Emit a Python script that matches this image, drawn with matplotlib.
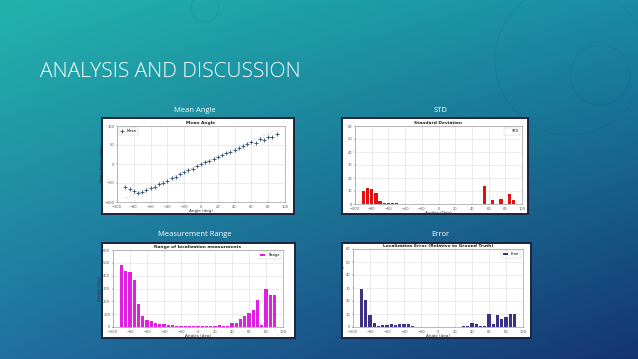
import numpy as np
import matplotlib
matplotlib.use('Agg')
import matplotlib.pyplot as plt

# ---- data ----
angles = np.arange(-90, 91, 5)

mean_angle = [-60, -65, -72, -75, -73, -68, -64, -60, -52, -50, -45, -38, -33,
              -27, -22, -17, -12, -5, 0, 4, 9, 14, 19, 24, 28, 32, 38, 43,
              47, 52, 58, 55, 65, 62, 72, 70, 78]

std_dev = [10, 12, 11.5, 8.5, 2.5, 1, 0.8, 0.5, 0.4, 0.3, 0.3, 0.2, 0.2,
           0.2, 0.2, 0.2, 0.2, 0.2, 0.2, 0.2, 0.2, 0.2, 0.2, 0.2, 0.2, 0.2,
           0.2, 0.2, 0.3, 14, 0.3, 3, 0.3, 3.5, 0.3, 8, 3]

meas_range = [480, 440, 430, 370, 180, 85, 55, 45, 35, 25, 25, 12, 12, 10,
              8, 6, 6, 5, 5, 8, 6, 10, 8, 12, 8, 8, 30, 30, 65, 85, 110,
              130, 210, 15, 300, 250, 250]

loc_error = [29, 21, 9, 3, 1, 1.5, 1.5, 2, 1.5, 2.5, 2, 2, 0.5, 0.3, 0.2,
             0.2, 0.2, 0.2, 0.2, 0.2, 0.2, 0.2, 0.2, 0.2, 0.5, 1, 3, 2, 1,
             1, 10, 2.5, 9, 6, 8, 10, 10]

panel_titles = ['Mean Angle', 'STD', 'Measurement Range', 'Error']
slide_title = 'ANALYSIS AND DISCUSSION'

W, H = 638, 359
fig = plt.figure(figsize=(W / 100, H / 100), dpi=100)

# background gradient
bg = fig.add_axes([0, 0, 1, 1])
tl = np.array([34, 180, 172]); tr = np.array([26, 140, 165])
bl = np.array([32, 112, 160]); br = np.array([20, 52, 112])
u = np.linspace(0, 1, W)[None, :, None]
v = np.linspace(0, 1, H)[:, None, None]
img = (tl * (1 - u) * (1 - v) + tr * u * (1 - v) + bl * (1 - u) * v + br * u * v) / 255.
bg.imshow(img, aspect='auto', extent=[0, W, H, 0])
bg.set_xlim(0, W); bg.set_ylim(H, 0)
bg.axis('off')
# faint decorative rings
for cx, cy, r in [(205, 8, 14), (600, 75, 30), (570, 60, 75)]:
    bg.add_patch(plt.Circle((cx, cy), r, fill=False, ec=(0.1, 0.2, 0.3, 0.12), lw=0.6))

bg.text(40, 72, slide_title, color='white', fontsize=15, family='Open Sans',
        fontweight='light', va='center', ha='left')


def px_axes(x0, y0, x1, y1, **kw):
    return fig.add_axes([x0 / W, 1 - y1 / H, (x1 - x0) / W, (y1 - y0) / H], **kw)


def frame(x0, y0, x1, y1):
    a = px_axes(x0, y0, x1, y1)
    a.set_facecolor('white')
    a.set_xticks([]); a.set_yticks([])
    for s in a.spines.values():
        s.set_color('#1b2340'); s.set_linewidth(1.4)
    return a


def style(ax, title, xlabel, ylabel, ylim, yticks):
    ax.set_xlim(-100, 100)
    ax.set_xticks(np.arange(-100, 101, 20))
    ax.set_ylim(*ylim)
    ax.set_yticks(yticks)
    ax.grid(True, color='#dddddd', lw=0.4)
    ax.set_axisbelow(True)
    ax.tick_params(labelsize=2.6, length=1, width=0.3, pad=1, colors='#555555')
    ax.set_title(title, fontsize=3.2, pad=1.5, fontweight='bold', color='#222222')
    ax.set_xlabel(xlabel, fontsize=3, labelpad=0.5, color='#333333')
    ax.set_ylabel(ylabel, fontsize=3, labelpad=0.5, color='#333333')
    for s in ax.spines.values():
        s.set_color('#888888'); s.set_linewidth(0.4)


def add_legend(ax, loc, hl):
    leg = ax.legend(loc=loc, fontsize=2.6, handlelength=hl, borderpad=0.4,
                    frameon=True, fancybox=False, edgecolor='#bbbbbb')
    leg.get_frame().set_linewidth(0.3)
    return leg


# panel titles
for (x, y), t in zip([(195, 110), (440, 110), (195, 235), (440, 235)], panel_titles):
    bg.text(x, y, t, color='white', fontsize=5.5, family='Open Sans', ha='center', va='center')

# mean angle
frame(102, 118, 294, 214)
ax1 = px_axes(117, 126, 285, 202)
ax1.plot([-90, 90], [-90, 90], color='#d8d8d8', lw=0.6, ls='--')
ax1.plot(angles, mean_angle, ls='none', marker='+', ms=2.2, mew=0.6,
         color='#2f4f6f', label='Mean')
style(ax1, 'Mean Angle', 'Angle (deg)', 'Mean Angle (deg)', (-100, 100),
      np.arange(-100, 101, 50))
add_legend(ax1, 'upper left', 1)

# std
frame(342, 118, 528, 214)
ax2 = px_axes(355, 126, 522, 204)
ax2.bar(angles, std_dev, width=4, color='#e01010', label='STD')
style(ax2, 'Standard Deviation', 'Angles (Deg)', '', (0, 60), np.arange(0, 61, 10))
leg2 = add_legend(ax2, 'upper right', 1)
leg2.legend_handles[0].set_alpha(0)

# range
frame(102, 243, 295, 338)
ax3 = px_axes(113, 250, 283, 327)
ax3.bar(angles, meas_range, width=4, color='#e020e0', label='Range')
style(ax3, 'Range of localization measurments', 'Angles (deg)', 'Range (deg)',
      (0, 600), np.arange(0, 601, 100))
add_legend(ax3, 'upper right', 1.5)

# error
frame(342, 243, 531, 338)
ax4 = px_axes(353, 249, 523, 327)
ax4.bar(angles, loc_error, width=4, color='#3b3285', label='Error')
style(ax4, 'Localization Error (Relative to Ground Truth)', 'Angle (deg)',
      'Localization Error (deg)', (0, 60), np.arange(0, 61, 10))
add_legend(ax4, 'upper right', 1.5)

fig.savefig('out.png', dpi=100)
